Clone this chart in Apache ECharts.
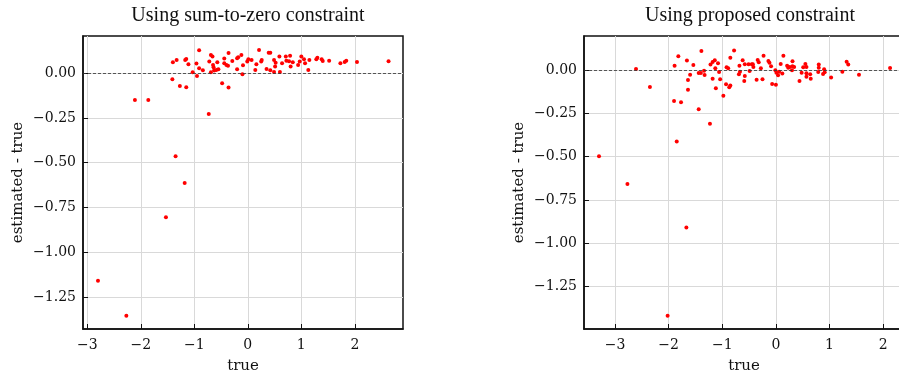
<!DOCTYPE html>
<html>
<head>
<meta charset="utf-8">
<script src="https://cdn.jsdelivr.net/npm/echarts@6/dist/echarts.min.js"></script>
<style>
  html, body { margin: 0; padding: 0; background: #fff; }
  #chart { width: 899px; height: 375px; }
</style>
</head>
<body>
<div id="chart"></div>
<script>
// Panel titles and axis names
const titles = ['Using sum-to-zero constraint', 'Using proposed constraint'];
const xName = 'true';
const yName = 'estimated - true';

// Tick positions
const xTicks = [-3, -2, -1, 0, 1, 2];
const yTicks = [0, -0.25, -0.5, -0.75, -1.0, -1.25];

// Sum-to-zero constraint: true value vs. estimation error
const sumTrue = [
  -2.11, -1.86, -1.41, -1.40, -1.33, -1.27, -1.17, -1.15, -1.15, -1.11,
  -1.03, -0.96, -0.95, -0.91, -0.91, -0.84, -0.73, -0.72, -0.69, -0.66,
  -0.69, -0.65, -0.64, -0.63, -0.59, -0.55, -0.57, -0.48, -0.44, -0.44,
  -0.40, -0.36, -0.36, -0.37, -0.29, -0.20, -0.18, -0.20, -0.12, -0.09,
  -0.10, -0.01, 0.01, 0.07, 0.14, 0.16, 0.21, 0.25, 0.26, 0.35,
  0.39, 0.42, 0.42, 0.49, 0.51, 0.52, 0.49, 0.59, 0.60, 0.64,
  0.71, 0.72, 0.79, 0.77, 0.80, 0.84, 0.94, 0.97, 1.00, 1.05,
  1.07, 1.15, 1.13, 1.28, 1.30, 1.38, 1.40, 1.52, 1.73, 1.81,
  1.84, 2.04, 2.63, -1.35, -1.18, -1.53, -2.80, -2.27
];
const sumErr = [
  -0.149, -0.149, -0.034, 0.061, 0.074, -0.071, 0.074, 0.080, -0.078, 0.050,
  0.005, 0.054, -0.015, 0.128, 0.028, 0.017, -0.228, 0.065, 0.102, 0.093,
  0.006, 0.046, 0.033, 0.015, 0.018, 0.022, 0.061, -0.056, 0.082, 0.056,
  0.046, 0.113, -0.080, 0.042, 0.069, 0.084, 0.089, 0.022, 0.102, 0.045,
  -0.006, 0.065, 0.078, 0.074, 0.018, 0.050, 0.130, 0.065, 0.074, 0.024,
  0.115, 0.115, 0.017, 0.074, 0.037, 0.059, 0.007, 0.093, 0.007, 0.056,
  0.093, 0.070, 0.098, 0.067, 0.037, 0.061, 0.046, 0.065, 0.093, 0.078,
  0.056, 0.074, 0.018, 0.078, 0.087, 0.078, 0.069, 0.070, 0.056, 0.063,
  0.070, 0.063, 0.067, -0.464, -0.613, -0.805, -1.159, -1.355
];

// Proposed constraint: true value vs. estimation error
const propTrue = [
  -2.61, -2.35, -1.90, -1.89, -1.82, -1.77, -1.66, -1.64, -1.64, -1.60,
  -1.54, -1.44, -1.44, -1.39, -1.40, -1.34, -1.33, -1.23, -1.22, -1.18,
  -1.14, -1.18, -1.13, -1.12, -1.08, -1.06, -1.04, -0.98, -0.93, -0.92,
  -0.89, -0.87, -0.85, -0.85, -0.78, -0.69, -0.68, -0.67, -0.62, -0.59,
  -0.58, -0.58, -0.51, -0.49, -0.45, -0.43, -0.42, -0.36, -0.34, -0.32,
  -0.28, -0.25, -0.23, -0.14, -0.12, -0.09, -0.07, -0.01, 0.00, 0.01,
  0.04, 0.06, 0.09, 0.12, 0.14, 0.21, 0.23, 0.26, 0.30, 0.31,
  0.31, 0.34, 0.44, 0.48, 0.51, 0.55, 0.57, 0.57, 0.57, 0.64,
  0.65, 0.79, 0.80, 0.80, 0.88, 0.90, 0.91, 1.03, 1.24, 1.32,
  1.35, 1.55, 2.13, -3.30, -2.77, -1.85, -1.67, -2.02
];
const propErr = [
  0.006, -0.098, -0.179, 0.025, 0.079, -0.186, 0.054, -0.058, -0.114, -0.027,
  0.029, -0.227, -0.017, 0.110, -0.017, -0.004, -0.029, -0.310, 0.031, 0.046,
  0.056, -0.050, 0.010, -0.106, 0.039, -0.012, -0.054, -0.148, -0.083, 0.016,
  0.010, -0.100, -0.090, 0.071, 0.113, -0.025, 0.025, -0.010, 0.056, -0.063,
  -0.035, 0.033, 0.033, -0.006, 0.033, 0.033, 0.017, -0.056, 0.058, 0.044,
  0.010, -0.054, 0.082, 0.052, 0.042, 0.021, -0.081, -0.002, -0.085, -0.016,
  -0.031, -0.010, 0.035, -0.021, 0.082, 0.025, 0.013, 0.017, -0.002, 0.050,
  0.021, 0.017, -0.063, -0.016, 0.016, 0.035, -0.039, 0.017, -0.019, -0.025,
  -0.050, -0.012, 0.031, 0.013, -0.023, 0.004, -0.013, -0.044, -0.010, 0.048,
  0.031, -0.027, 0.012, -0.498, -0.657, -0.413, -0.909, -1.417
];

const pairs = (xs, ys) => xs.map((x, i) => [x, ys[i]]);
const minus = s => String(s).replace('-', '\u2212');

const serif = 'DejaVu Serif';
const titleFont = 'Liberation Serif';

function xAxis(gridIndex, min, max) {
  return {
    type: 'value', gridIndex, min, max,
    name: xName, nameLocation: 'middle', nameGap: 30,
    nameTextStyle: { fontFamily: serif, fontSize: 15, color: '#111' },
    axisLine: { show: true, onZero: false, lineStyle: { color: '#111', width: 1.5 } },
    axisTick: { show: true, inside: true, length: 5, customValues: xTicks,
                lineStyle: { color: '#111', width: 1 } },
    axisLabel: { customValues: xTicks, margin: 9, fontFamily: serif, fontSize: 14,
                 color: '#111', formatter: v => minus(v) },
    splitLine: { show: true, lineStyle: { color: '#d9d9d9', width: 1 } }
  };
}

function yAxis(gridIndex, min, max) {
  return {
    type: 'value', gridIndex, min, max,
    name: yName, nameLocation: 'middle', nameGap: 57, nameRotate: 90,
    nameTextStyle: { fontFamily: serif, fontSize: 15, color: '#111' },
    axisLine: { show: true, onZero: false, lineStyle: { color: '#111', width: 1.5 } },
    axisTick: { show: true, inside: true, length: 5, customValues: yTicks,
                lineStyle: { color: '#111', width: 1 } },
    axisLabel: { customValues: yTicks, margin: 7, fontFamily: serif, fontSize: 14,
                 color: '#111', formatter: v => minus(Number(v).toFixed(2)) },
    splitLine: { show: true, lineStyle: { color: '#d9d9d9', width: 1 } }
  };
}

function scatter(idx, data) {
  return {
    type: 'scatter', xAxisIndex: idx, yAxisIndex: idx,
    data, symbolSize: 4, itemStyle: { color: '#ff0000', opacity: 1 },
    silent: true,
    markLine: {
      silent: true, symbol: 'none', label: { show: false },
      lineStyle: { color: '#333', type: [3, 2], width: 0.8 },
      data: [{ yAxis: 0 }]
    }
  };
}

const gridBase = {
  top: 36, width: 320, height: 293, show: true, outerBoundsMode: 'none',
  containLabel: false, borderColor: '#111', borderWidth: 1.5, backgroundColor: 'transparent'
};

const chart = echarts.init(document.getElementById('chart'), null, { renderer: 'canvas' });
chart.setOption({
  animation: false,
  backgroundColor: '#fff',
  title: [
    { text: titles[0], left: 243, top: 1, textAlign: 'center',
      textStyle: { fontFamily: titleFont, fontSize: 20, fontWeight: 'normal', color: '#111' } },
    { text: titles[1], left: 745, top: 1, textAlign: 'center',
      textStyle: { fontFamily: titleFont, fontSize: 20, fontWeight: 'normal', color: '#111' } }
  ],
  grid: [
    Object.assign({ left: 83 }, gridBase),
    Object.assign({ left: 584 }, gridBase)
  ],
  xAxis: [xAxis(0, -3.08, 2.90), xAxis(1, -3.58, 2.39)],
  yAxis: [yAxis(0, -1.429, 0.208), yAxis(1, -1.494, 0.196)],
  series: [scatter(0, pairs(sumTrue, sumErr)), scatter(1, pairs(propTrue, propErr))]
});
</script>
</body>
</html>
